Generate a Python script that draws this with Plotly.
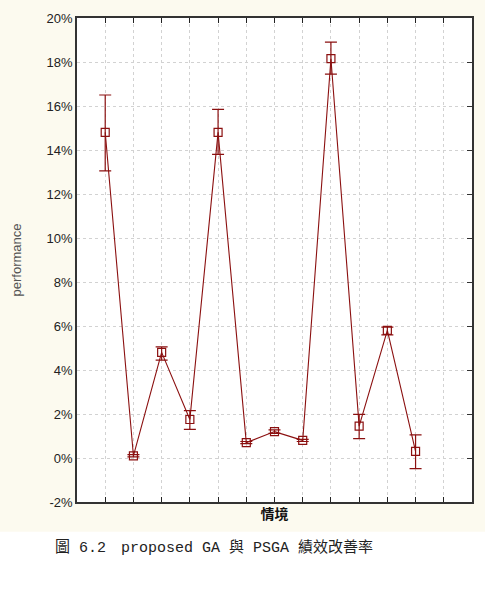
import plotly.graph_objects as go

scenarios = list(range(1, 13))
performance = [14.8, 0.1, 4.8, 1.75, 14.8, 0.7, 1.2, 0.8, 18.15, 1.45, 5.8, 0.3]
upper = [16.5, 0.15, 5.05, 2.15, 15.85, 0.75, 1.28, 0.85, 18.9, 1.98, 5.95, 1.05]
lower = [13.05, 0.05, 4.45, 1.3, 13.8, 0.65, 1.12, 0.75, 17.45, 0.88, 5.6, -0.48]
y_ticks = [-2, 0, 2, 4, 6, 8, 10, 12, 14, 16, 18, 20]
y_tick_labels = [f"{v}%" for v in y_ticks]

err_plus = [u - m for u, m in zip(upper, performance)]
err_minus = [m - l for m, l in zip(performance, lower)]

RED = "#8b1010"
fig = go.Figure()
fig.add_trace(go.Scatter(
    x=scenarios, y=performance, mode="lines+markers",
    line=dict(color=RED, width=1.1),
    marker=dict(symbol="square-open", size=8, color=RED, line=dict(width=1.2)),
    error_y=dict(type="data", symmetric=False, array=err_plus, arrayminus=err_minus,
                 color=RED, thickness=1.2, width=6),
    showlegend=False,
))
# invisible trace on right axis for mirrored ticks
fig.add_trace(go.Scatter(x=[1], y=[0], yaxis="y2", mode="markers",
                         marker=dict(opacity=0), showlegend=False, hoverinfo="skip"))

W, H = 485, 597
L, R, T, B = 77, 11, 15, 95
ph = H - T - B

def py(pix):
    return (H - B - pix) / ph

fig.update_layout(
    width=W, height=H,
    margin=dict(l=L, r=R, t=T, b=B),
    paper_bgcolor="#fcfaef",
    plot_bgcolor="white",
    xaxis=dict(range=[0, 14], tickvals=list(range(1, 14)), showticklabels=False,
               ticks="inside", ticklen=5, tickcolor="#222", mirror="ticks",
               showline=True, linecolor="#333", linewidth=1.5,
               showgrid=True, gridcolor="#d2d2d2", griddash="dot", gridwidth=1,
               zeroline=False,
               title=dict(text="<b>情境</b>", font=dict(family="Noto Sans CJK TC", size=14, color="#111"),
                          standoff=6)),
    yaxis=dict(range=[-2, 20], tickmode="array", tickvals=y_ticks, ticktext=y_tick_labels,
               ticks="", showline=True, linecolor="#333", linewidth=1.5, mirror=True,
               showgrid=True, gridcolor="#d2d2d2", griddash="dot", gridwidth=1,
               zeroline=False,
               tickfont=dict(family="Liberation Sans", size=13, color="#222"),
               title=dict(text="performance", font=dict(family="Liberation Sans", size=13, color="#555"),
                          standoff=22)),
    yaxis2=dict(range=[-2, 20], tickvals=y_ticks, overlaying="y", side="right",
                showticklabels=False, ticks="inside", ticklen=5, tickcolor="#333",
                showgrid=False, zeroline=False),
    shapes=[dict(type="rect", xref="paper", yref="paper", x0=-L / (W - L - R) - 0.05,
                 x1=1 + R / (W - L - R) + 0.05,
                 y0=py(H + 5), y1=py(532), fillcolor="white", line=dict(width=0), layer="below")],
    annotations=[dict(text="圖 6.2\u3000proposed GA 與 PSGA 績效改善率",
                      xref="paper", yref="paper", x=(53 - L) / (W - L - R), y=py(548),
                      xanchor="left", yanchor="middle", showarrow=False,
                      font=dict(family="Liberation Mono, Noto Sans CJK TC", size=15, color="#222"))],
)

fig.write_html("out.html")
